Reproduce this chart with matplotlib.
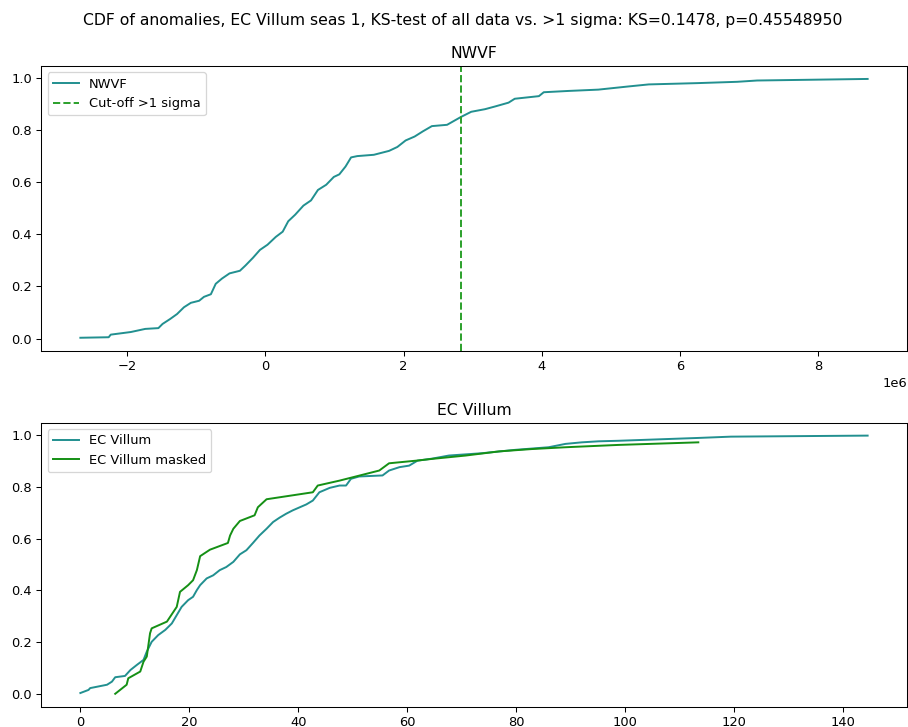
import matplotlib
matplotlib.use("Agg")
import matplotlib.pyplot as plt
import numpy as np

# NWVF CDF (x in units of 1e6)
nwvf_x = [-2.68, -2.27, -2.24, -1.95, -1.74, -1.55, -1.49, -1.38, -1.28, -1.18, -1.08, -0.96,
          -0.89, -0.79, -0.72, -0.63, -0.52, -0.37, -0.29, -0.18, -0.08, 0.03, 0.15, 0.25,
          0.33, 0.43, 0.55, 0.66, 0.76, 0.88, 0.99, 1.07, 1.16, 1.24, 1.33, 1.57, 1.79, 1.91,
          2.03, 2.16, 2.28, 2.41, 2.63, 2.73, 2.83, 2.98, 3.18, 3.32, 3.52, 3.61, 3.96, 4.03,
          4.39, 4.82, 5.25, 5.55, 6.26, 6.83, 7.12, 8.72]
nwvf_y = [0.003, 0.005, 0.015, 0.025, 0.037, 0.040, 0.056, 0.075, 0.094, 0.120, 0.137, 0.145,
          0.160, 0.170, 0.210, 0.230, 0.250, 0.260, 0.280, 0.310, 0.340, 0.360, 0.390, 0.410,
          0.450, 0.475, 0.510, 0.530, 0.570, 0.590, 0.620, 0.630, 0.660, 0.695, 0.700, 0.705,
          0.720, 0.735, 0.760, 0.775, 0.795, 0.815, 0.820, 0.835, 0.850, 0.870, 0.880, 0.890,
          0.905, 0.920, 0.930, 0.945, 0.950, 0.955, 0.967, 0.975, 0.980, 0.985, 0.990, 0.996]
cutoff = 2.83e6

ec_x = [0.0, 1.5, 1.8, 4.9, 5.8, 6.4, 8.2, 9.2, 10.4, 11.6, 12.2, 13.1, 14.3, 15.6, 16.8, 17.7,
        18.6, 19.8, 20.7, 21.4, 22.0, 23.2, 24.4, 25.6, 26.8, 28.1, 29.3, 30.5, 31.7, 32.9,
        34.2, 35.4, 36.6, 37.8, 39.0, 40.3, 41.5, 42.7, 43.9, 45.8, 47.6, 48.8, 49.7, 51.2,
        55.5, 56.7, 58.6, 60.4, 61.9, 64.6, 67.7, 73.8, 79.9, 86.0, 89.1, 92.1, 95.2, 98.8,
        113.5, 119.5, 144.6]
ec_y = [0.003, 0.015, 0.022, 0.035, 0.047, 0.064, 0.069, 0.092, 0.112, 0.131, 0.163, 0.201,
        0.227, 0.247, 0.272, 0.304, 0.336, 0.362, 0.375, 0.401, 0.420, 0.446, 0.458, 0.478,
        0.490, 0.510, 0.539, 0.555, 0.583, 0.612, 0.638, 0.664, 0.681, 0.696, 0.709, 0.721,
        0.732, 0.747, 0.779, 0.796, 0.805, 0.805, 0.831, 0.840, 0.844, 0.863, 0.876, 0.882,
        0.901, 0.909, 0.921, 0.930, 0.943, 0.953, 0.966, 0.972, 0.976, 0.978, 0.989, 0.994,
        0.998]

ecm_x = [6.4, 7.3, 8.5, 8.8, 11.0, 11.6, 12.2, 12.8, 13.1, 15.9, 17.1, 17.7, 18.3, 19.8, 20.7,
         21.4, 22.0, 23.8, 27.1, 27.5, 28.1, 29.3, 32.0, 32.6, 34.2, 42.7, 43.6, 47.6, 54.9,
         56.7, 61.6, 64.6, 70.8, 76.9, 82.9, 89.1, 98.8, 113.5]
ecm_y = [0.0, 0.015, 0.035, 0.060, 0.086, 0.124, 0.144, 0.234, 0.253, 0.279, 0.317, 0.336,
         0.394, 0.420, 0.439, 0.478, 0.532, 0.557, 0.583, 0.612, 0.638, 0.668, 0.690, 0.721,
         0.752, 0.779, 0.805, 0.824, 0.863, 0.891, 0.901, 0.908, 0.921, 0.937, 0.946, 0.953,
         0.962, 0.972]

W, H = 908, 727
DPI = 72 * 1.3
fig = plt.figure(figsize=(W / DPI, H / DPI), dpi=DPI)
ax1 = fig.add_axes([41 / W, (H - 350.7) / H, 866 / W, 284.7 / H])
ax2 = fig.add_axes([41 / W, (H - 706.7) / H, 866 / W, 284.0 / H])

teal = '#229090'
ax1.plot(np.array(nwvf_x) * 1e6, nwvf_y, color=teal, label='NWVF')
ax1.axvline(cutoff, color='#2ca02c', linestyle='--', label='Cut-off >1 sigma')
ax1.set_title('NWVF')
ax1.legend(loc='upper left')

ax2.plot(ec_x, ec_y, color=teal, label='EC Villum')
ax2.plot(ecm_x, ecm_y, color='#159015', label='EC Villum masked')
ax2.set_title('EC Villum')
ax2.legend(loc='upper left')

fig.suptitle('CDF of anomalies, EC Villum seas 1, KS-test of all data vs. >1 sigma: KS=0.1478, p=0.45548950',
             x=463 / W, y=1 - 20 / H, va='center')

fig.savefig('out.png', dpi=DPI)
